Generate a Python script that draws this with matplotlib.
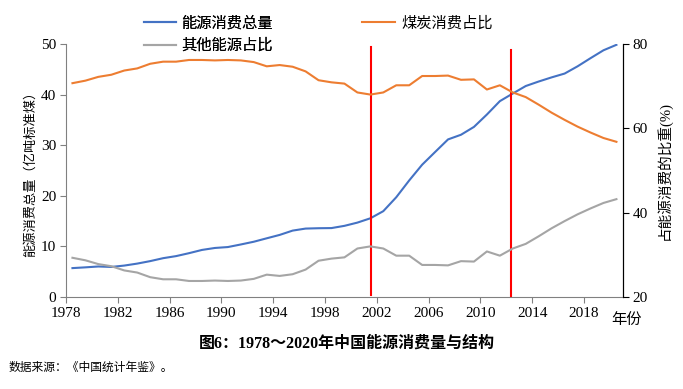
import matplotlib.pyplot as plt
import numpy as np

plt.rcParams['font.family'] = ['Liberation Serif', 'Noto Sans CJK SC']
plt.rcParams['axes.unicode_minus'] = False

years = list(range(1978, 2021))

# 能源消费总量 (亿吨标准煤)
energy_total = [5.71, 5.86, 6.03, 5.94, 6.21, 6.60, 7.09, 7.67, 8.08, 8.66,
                9.30, 9.69, 9.87, 10.38, 10.92, 11.60, 12.27, 13.12, 13.52, 13.59,
                13.62, 14.06, 14.70, 15.55, 16.96, 19.71, 23.03, 26.14, 28.65, 31.14,
                32.06, 33.61, 36.06, 38.70, 40.21, 41.69, 42.58, 43.40, 44.15, 45.58,
                47.19, 48.75, 49.83]

# 煤炭消费占比 (%)
coal_share = [70.7, 71.3, 72.2, 72.7, 73.7, 74.2, 75.3, 75.8, 75.8, 76.2,
              76.2, 76.1, 76.2, 76.1, 75.7, 74.7, 75.0, 74.6, 73.5, 71.4,
              70.9, 70.6, 68.5, 68.0, 68.5, 70.2, 70.2, 72.4, 72.4, 72.5,
              71.5, 71.6, 69.2, 70.2, 68.5, 67.4, 65.6, 63.7, 62.0, 60.4,
              59.0, 57.7, 56.8]

# 其他能源占比 (%)
other_share = [29.3, 28.7, 27.8, 27.3, 26.3, 25.8, 24.7, 24.2, 24.2, 23.8,
               23.8, 23.9, 23.8, 23.9, 24.3, 25.3, 25.0, 25.4, 26.5, 28.6,
               29.1, 29.4, 31.5, 32.0, 31.5, 29.8, 29.8, 27.6, 27.6, 27.5,
               28.5, 28.4, 30.8, 29.8, 31.5, 32.6, 34.4, 36.3, 38.0, 39.6,
               41.0, 42.3, 43.2]

# red marker lines (x position in year units, y span on left axis)
marker_x = [2001.56, 2012.34]
marker_ytop = [49.3, 48.8]
marker_ybot = [0.4, 0.0]

x_ticks = list(range(1978, 2019, 4))

blue = '#4472C4'
orange = '#ED7D31'
gray = '#A5A5A5'

fig = plt.figure(figsize=(6.83, 3.89), dpi=100)
ax = fig.add_axes([0.0966, 0.2365, 0.8154, 0.6505])
ax2 = ax.twinx()

xs = np.array(years) + 0.5
l1, = ax.plot(xs, energy_total, color=blue, lw=1.5, label='能源消费总量')
l2, = ax2.plot(xs, coal_share, color=orange, lw=1.5, label='煤炭消费占比')
l3, = ax2.plot(xs, other_share, color=gray, lw=1.5, label='其他能源占比')

for mx, yt, yb in zip(marker_x, marker_ytop, marker_ybot):
    ax.plot([mx, mx], [yb, yt], color='#FF0000', lw=1.5, zorder=5)

ax.set_xlim(1978, 2021)
ax.set_ylim(0, 50)
ax2.set_ylim(20, 80)
ax.set_xticks(x_ticks)
ax.set_xticklabels([str(t) for t in x_ticks])
ax.set_yticks(range(0, 51, 10))
ax2.set_yticks([20, 40, 60, 80])

for a in (ax, ax2):
    a.spines['top'].set_visible(False)
ax.spines['left'].set_color('#808080')
ax.spines['bottom'].set_color('#808080')
ax2.spines['left'].set_visible(False)
ax2.spines['bottom'].set_visible(False)
ax2.spines['right'].set_color('black')

ax.tick_params(axis='both', labelsize=11, direction='out', length=4, color='#808080', pad=3)
ax2.tick_params(axis='y', labelsize=11, direction='out', length=4, color='black', pad=3)

ax.set_ylabel('能源消费总量（亿吨标准煤）', fontsize=9.5, labelpad=3)
ax2.set_ylabel('占能源消费的比重(%)', fontsize=10.5, labelpad=6)

ax.text(2021.3, -3.1, '年份', fontsize=11, ha='center', va='top')

leg1 = fig.legend(handles=[l1, l3], loc='upper left', bbox_to_anchor=(0.190, 0.995),
                  frameon=False, fontsize=11, handlelength=2.15, handletextpad=0.33,
                  labelspacing=0.57)
fig.add_artist(leg1)
fig.legend(handles=[l2], loc='upper left', bbox_to_anchor=(0.5095, 0.995),
           frameon=False, fontsize=11, handlelength=2.15, handletextpad=0.45)

fig.text(0.508, 0.118, '图6：1978～2020年中国能源消费量与结构', fontsize=11.5,
         fontweight='bold', ha='center', va='center')
fig.text(0.012, 0.054, '数据来源：《中国统计年鉴》。', fontsize=8.5, ha='left', va='center')

fig.savefig('out.png', dpi=100)
